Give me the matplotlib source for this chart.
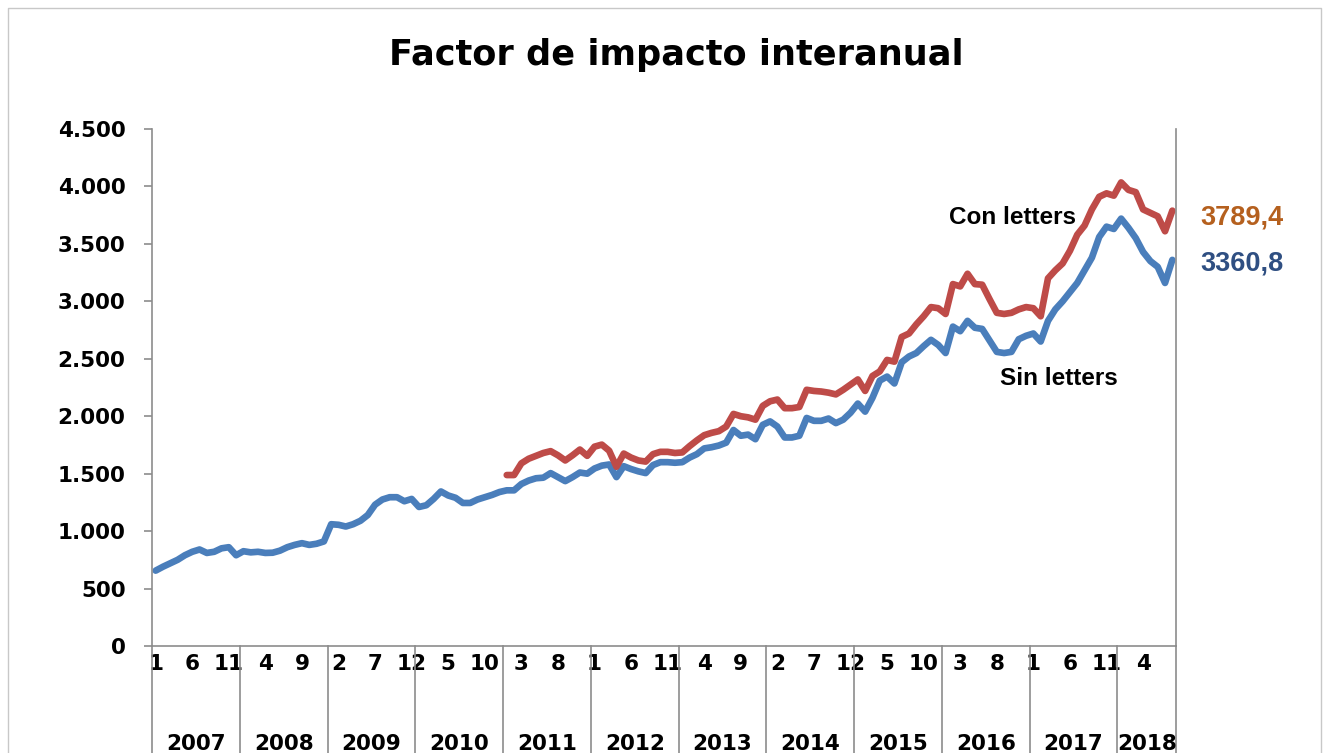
import matplotlib
matplotlib.use("Agg")
import matplotlib.pyplot as plt
import matplotlib.transforms as mtransforms
from matplotlib import font_manager
import numpy as np

# monthly values, Jan 2007 .. Aug 2018
years = [2007, 2008, 2009, 2010, 2011, 2012, 2013, 2014, 2015, 2016, 2017, 2018]

sin_letters = [
    # 2007
    656, 690, 720, 750, 790, 820, 840, 810, 820, 850, 860, 790,
    # 2008
    825, 815, 820, 810, 812, 830, 860, 880, 895, 880, 890, 910,
    # 2009
    1060, 1055, 1040, 1060, 1090, 1140, 1230, 1275, 1295, 1295, 1260, 1280,
    # 2010
    1210, 1225, 1280, 1345, 1310, 1290, 1245, 1245, 1275, 1295, 1315, 1340,
    # 2011
    1355, 1355, 1410, 1440, 1460, 1465, 1505, 1470, 1435, 1470, 1510, 1500,
    # 2012
    1545, 1570, 1580, 1470, 1565, 1540, 1520, 1505, 1575, 1600, 1600, 1595,
    # 2013
    1600, 1640, 1670, 1720, 1730, 1745, 1770, 1880, 1830, 1840, 1800, 1925,
    # 2014
    1955, 1910, 1815, 1815, 1830, 1985, 1960, 1960, 1980, 1940, 1970, 2030,
    # 2015
    2110, 2040, 2160, 2310, 2345, 2285, 2470, 2520, 2550, 2610, 2665, 2620,
    # 2016
    2550, 2780, 2740, 2830, 2770, 2760, 2660, 2560, 2550, 2560, 2670, 2700,
    # 2017
    2720, 2650, 2830, 2930, 3000, 3080, 3160, 3270, 3380, 3560, 3650, 3630,
    # 2018
    3720, 3640, 3550, 3430, 3350, 3300, 3160, 3360.8,
]

# starts Jan 2011
con_letters = [
    # 2011
    1488, 1488, 1590, 1630, 1655, 1680, 1696, 1660, 1615, 1660, 1710, 1655,
    # 2012
    1735, 1753, 1700, 1560, 1675, 1640, 1615, 1605, 1670, 1690, 1690, 1680,
    # 2013
    1685, 1740, 1790, 1835, 1855, 1870, 1910, 2020, 2000, 1990, 1970, 2090,
    # 2014
    2130, 2145, 2070, 2070, 2080, 2230, 2220, 2215, 2205, 2190, 2230, 2275,
    # 2015
    2320, 2220, 2350, 2390, 2490, 2475, 2690, 2720, 2800, 2870, 2950, 2940,
    # 2016
    2890, 3150, 3130, 3240, 3150, 3145, 3020, 2900, 2890, 2900, 2930, 2950,
    # 2017
    2940, 2870, 3200, 3270, 3330, 3440, 3580, 3660, 3800, 3910, 3940, 3920,
    # 2018
    4035, 3970, 3950, 3800, 3770, 3740, 3610, 3789.4,
]
con_start_year = 2011

blue = "#4A7EBB"
red = "#BE4B48"
grey = "#8C8C8C"

n = len(sin_letters)
x_sin = np.arange(n)
off = (con_start_year - years[0]) * 12
x_con = np.arange(off, off + len(con_letters))

fig = plt.figure(figsize=(13.28, 7.53), dpi=100)
ax = fig.add_axes([152 / 1328, 1 - 646 / 753, 1024 / 1328, 517 / 753])

ax.plot(x_sin, sin_letters, color=blue, lw=4.8, solid_joinstyle="round", solid_capstyle="round")
ax.plot(x_con, con_letters, color=red, lw=4.8, solid_joinstyle="round", solid_capstyle="round")

ax.set_xlim(-0.5, n - 0.5)
ax.set_ylim(0, 4500)
ax.set_yticks(np.arange(0, 4501, 500))
ax.set_yticklabels([f"{v:,}".replace(",", ".") for v in range(0, 4501, 500)],
                   fontweight="bold", fontsize=15.5)

ax.spines["top"].set_visible(False)
for s in ["left", "bottom", "right"]:
    ax.spines[s].set_color(grey)
    ax.spines[s].set_linewidth(1.2)
ax.tick_params(axis="y", length=6, width=1.2, color=grey, pad=13)

# month ticks every 5 months
mt = np.arange(0, n, 5)
ax.set_xticks(mt)
ax.set_xticklabels([str(i % 12 + 1) for i in mt], fontweight="bold", fontsize=15.5)
ax.tick_params(axis="x", length=0, pad=6)

# year separators and labels
trans = mtransforms.blended_transform_factory(ax.transData, ax.transAxes)
for k, yr in enumerate(years):
    start = k * 12 - 0.5
    end = min(start + 12, n - 0.5)
    ax.plot([start, start], [0, -0.25], transform=trans, color=grey, lw=1.2, clip_on=False)
    ax.text((start + end) / 2, -0.19, str(yr), transform=trans, ha="center", va="center",
            fontsize=15.5, fontweight="bold")
ax.plot([n - 0.5, n - 0.5], [0, -0.25], transform=trans, color=grey, lw=1.2, clip_on=False)

fig.text(676 / 1328, 1 - 55 / 753, "Factor de impacto interanual", ha="center", va="center",
         fontsize=25.3, fontweight="bold")

names = [f.name for f in font_manager.fontManager.ttflist]
if "Liberation Sans Narrow" in names:
    lab_font, lab_size = "Liberation Sans Narrow", 20
else:
    lab_font, lab_size = "Liberation Sans", 17.5

ax.text(117.2, 3732, "Con letters", ha="center", va="center", fontsize=lab_size,
        fontweight="bold", family=lab_font)
ax.text(123.5, 2329, "Sin letters", ha="center", va="center", fontsize=lab_size,
        fontweight="bold", family=lab_font)

ax.text(142.8, 3732, "3789,4", ha="left", va="center", fontsize=19.5, fontweight="bold",
        family="Liberation Sans", color="#B5601E", clip_on=False)
ax.text(142.8, 3325, "3360,8", ha="left", va="center", fontsize=19.5, fontweight="bold",
        family="Liberation Sans", color="#2F4F82", clip_on=False)

# chart border
bx0, bx1, by1 = 8 / 1328, 1321 / 1328, 1 - 8 / 753
fig.add_artist(plt.Line2D([bx0, bx0, bx1, bx1], [0, by1, by1, 0], transform=fig.transFigure,
                          color="#C8C8C8", lw=1))

fig.savefig("out.png", dpi=100)
